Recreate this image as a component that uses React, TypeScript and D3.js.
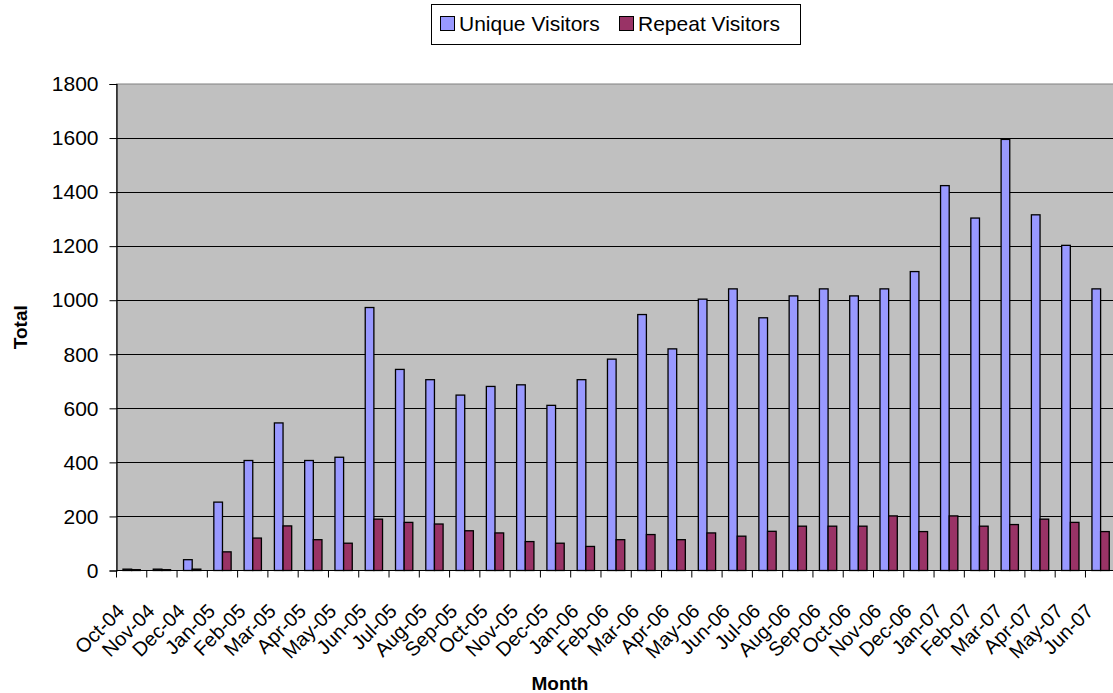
import React, { useRef, useEffect } from 'react';
import * as d3 from 'd3';

// Monthly visitor counts
const months = [
  'Oct-04', 'Nov-04', 'Dec-04',
  'Jan-05', 'Feb-05', 'Mar-05', 'Apr-05', 'May-05', 'Jun-05',
  'Jul-05', 'Aug-05', 'Sep-05', 'Oct-05', 'Nov-05', 'Dec-05',
  'Jan-06', 'Feb-06', 'Mar-06', 'Apr-06', 'May-06', 'Jun-06',
  'Jul-06', 'Aug-06', 'Sep-06', 'Oct-06', 'Nov-06', 'Dec-06',
  'Jan-07', 'Feb-07', 'Mar-07', 'Apr-07', 'May-07', 'Jun-07',
];

const uniqueVisitors = [
  5, 5, 40,
  253, 407, 546, 407, 419, 973,
  744, 706, 649, 681, 687, 611,
  706, 782, 947, 820, 1004, 1042,
  935, 1016, 1042, 1016, 1042, 1106,
  1424, 1304, 1595, 1316, 1203, 1042,
];

const repeatVisitors = [
  3, 3, 5,
  69, 120, 165, 114, 101, 190,
  178, 172, 147, 139, 107, 101,
  89, 114, 133, 114, 139, 127,
  145, 164, 164, 164, 202, 144,
  202, 164, 170, 190, 178, 144,
];

const yTicks = [0, 200, 400, 600, 800, 1000, 1200, 1400, 1600, 1800];

const seriesNames = ['Unique Visitors', 'Repeat Visitors'];
const seriesColors = ['#9999FF', '#993366'];

const W = 1113;
const H = 693;
const FONT = '"Liberation Sans", Arial, sans-serif';

const App: React.FC = () => {
  const svgRef = useRef<SVGSVGElement | null>(null);

  useEffect(() => {
    document.body.style.margin = '0';
    if (!svgRef.current) return;
    const svg = d3.select(svgRef.current);
    svg.selectAll('*').remove();

    // plot area (right edge runs slightly past the window, as in the original)
    const left = 116.5;
    const top = 84;
    const bottom = 570.5;
    const band = 30.28;
    const right = left + band * months.length;

    const x = d3.scaleBand<string>().domain(months).range([left, right]).padding(0);
    const y = d3.scaleLinear().domain([0, 1800]).range([bottom, top]);

    const barW = x.bandwidth() / 3.5;
    const inner = d3
      .scaleBand<number>()
      .domain([0, 1])
      .range([barW * 0.75, barW * 2.75]);

    // background
    svg
      .append('rect')
      .attr('x', left)
      .attr('y', top)
      .attr('width', right - left)
      .attr('height', bottom - top)
      .attr('fill', '#C0C0C0')
      .attr('stroke', '#808080')
      .attr('stroke-width', 1);

    // grid lines
    svg
      .append('g')
      .selectAll('line')
      .data(yTicks.filter((t) => t > 0 && t < 1800))
      .enter()
      .append('line')
      .attr('x1', left)
      .attr('x2', right)
      .attr('y1', (d) => Math.round(y(d)) + 0.5)
      .attr('y2', (d) => Math.round(y(d)) + 0.5)
      .attr('stroke', '#000')
      .attr('stroke-width', 1);

    // bars
    const series = [uniqueVisitors, repeatVisitors];
    series.forEach((vals, si) => {
      svg
        .append('g')
        .selectAll('rect')
        .data(vals)
        .enter()
        .append('rect')
        .attr('x', (_, i) => (x(months[i]) as number) + (inner(si) as number))
        .attr('y', (d) => y(d))
        .attr('width', inner.bandwidth())
        .attr('height', (d) => bottom - y(d))
        .attr('fill', seriesColors[si])
        .attr('stroke', '#000')
        .attr('stroke-width', 1.3);
    });

    // y axis
    const yAxis = svg
      .append('g')
      .attr('transform', `translate(${left},0)`)
      .call(d3.axisLeft(y).tickValues(yTicks).tickSize(7).tickPadding(11).tickFormat(d3.format('d')));
    yAxis.select('.domain').attr('stroke', '#000').attr('stroke-width', 1.2);
    yAxis.selectAll('line').attr('stroke', '#000');
    yAxis
      .selectAll('text')
      .style('font-family', FONT)
      .style('font-size', '21px')
      .attr('fill', '#000');

    // x axis
    const xAxisG = svg.append('g').attr('transform', `translate(0,${bottom})`);
    xAxisG
      .append('line')
      .attr('x1', left)
      .attr('x2', right)
      .attr('stroke', '#000')
      .attr('stroke-width', 1.2);
    xAxisG
      .selectAll('.tick')
      .data(months)
      .enter()
      .append('line')
      .attr('x1', (d) => (x(d) as number))
      .attr('x2', (d) => (x(d) as number))
      .attr('y1', 0)
      .attr('y2', 7)
      .attr('stroke', '#000');
    xAxisG
      .selectAll('text')
      .data(months)
      .enter()
      .append('text')
      .attr(
        'transform',
        (d) => `translate(${(x(d) as number) + x.bandwidth() / 2 - 6},${42}) rotate(-45)`
      )
      .attr('text-anchor', 'end')
      .style('font-family', FONT)
      .style('font-size', '20px')
      .attr('fill', '#000')
      .text((d) => d);

    // axis titles
    svg
      .append('text')
      .attr('x', 560)
      .attr('y', 690)
      .attr('text-anchor', 'middle')
      .style('font-family', FONT)
      .style('font-size', '19px')
      .style('font-weight', 'bold')
      .text('Month');

    svg
      .append('text')
      .attr('transform', `translate(27,${(top + bottom) / 2}) rotate(-90)`)
      .attr('text-anchor', 'middle')
      .style('font-family', FONT)
      .style('font-size', '19px')
      .style('font-weight', 'bold')
      .text('Total');

    // legend
    const legend = svg.append('g');
    legend
      .append('rect')
      .attr('x', 431.5)
      .attr('y', 4.5)
      .attr('width', 369)
      .attr('height', 40)
      .attr('fill', '#fff')
      .attr('stroke', '#000');
    const legendX = [440, 619];
    seriesNames.forEach((name, i) => {
      legend
        .append('rect')
        .attr('x', legendX[i] + 0.5)
        .attr('y', 16.5)
        .attr('width', 14)
        .attr('height', 14)
        .attr('fill', seriesColors[i])
        .attr('stroke', '#000');
      legend
        .append('text')
        .attr('x', legendX[i] + 19)
        .attr('y', 31)
        .style('font-family', FONT)
        .style('font-size', '21px')
        .attr('fill', '#000')
        .text(name);
    });
  }, []);

  return <svg ref={svgRef} width={W} height={H} style={{ display: 'block', background: '#fff' }} />;
};

export default App;
